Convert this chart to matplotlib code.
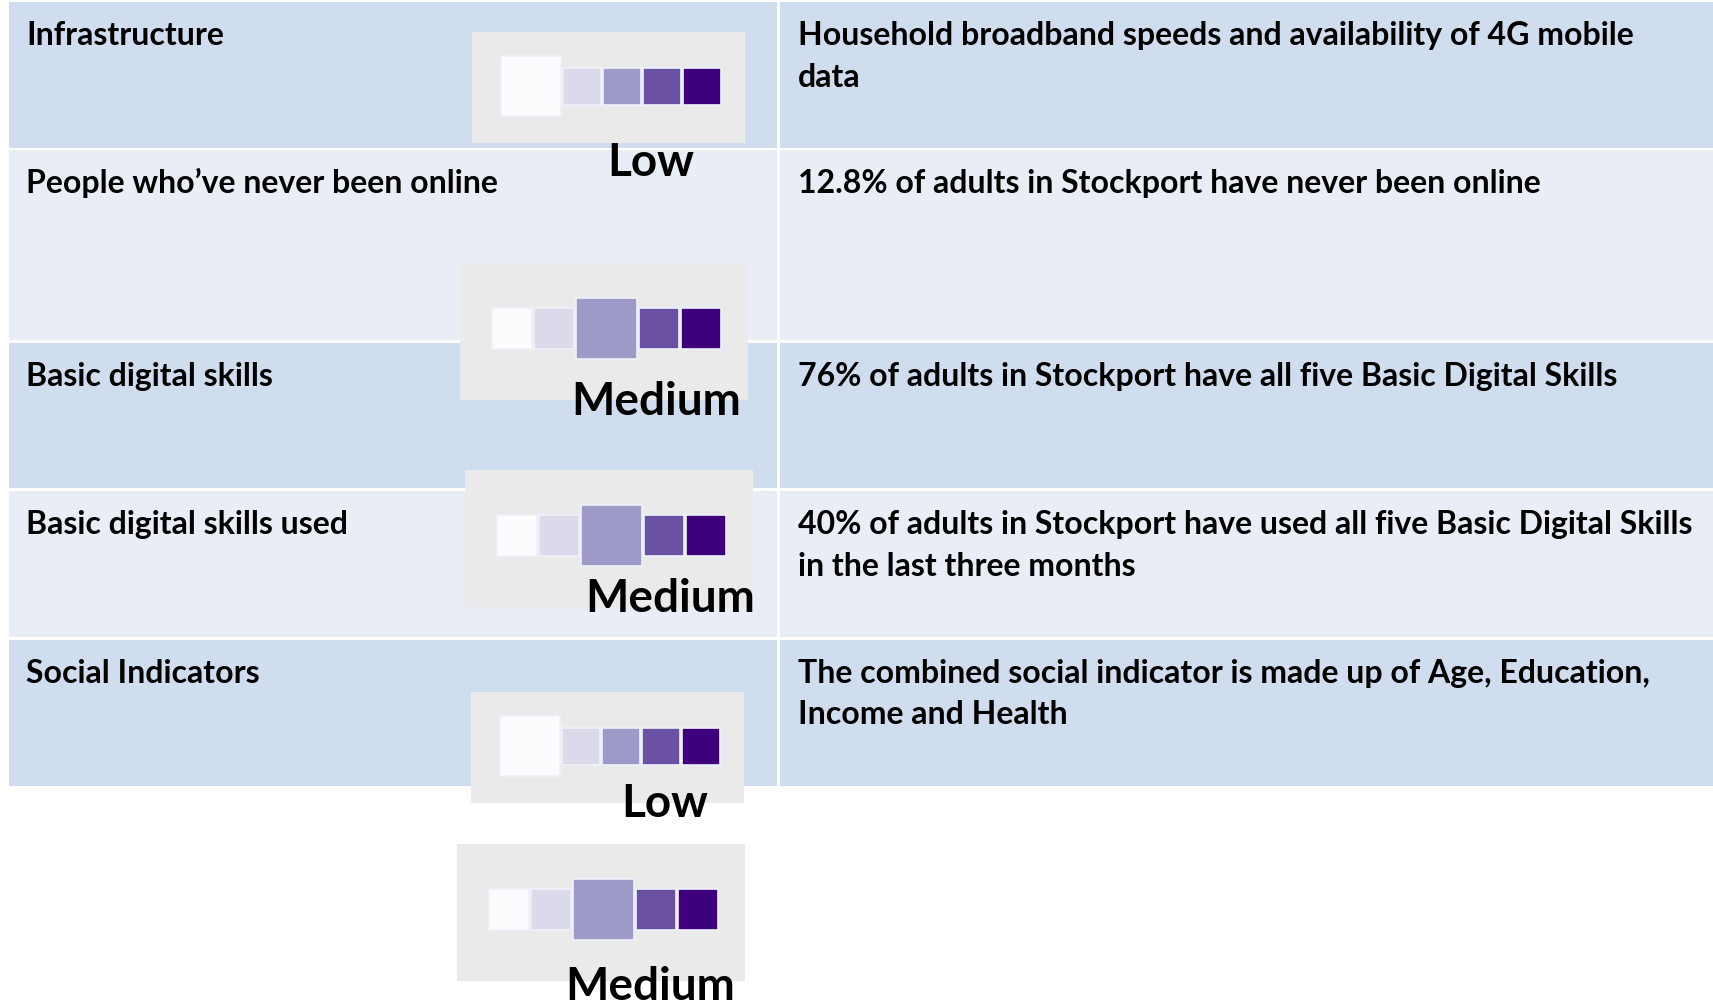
import matplotlib.pyplot as plt
from matplotlib.patches import Rectangle

# --- data ---
indicators = [
    "Infrastructure",
    "People who\u2019ve never been online",
    "Basic digital skills",
    "Basic digital skills used",
    "Social Indicators",
]
descriptions = [
    "Household broadband speeds and availability of 4G mobile\ndata",
    "12.8% of adults in Stockport have never been online",
    "76% of adults in Stockport have all five Basic Digital Skills",
    "40% of adults in Stockport have used all five Basic Digital Skills\nin the last three months",
    "The combined social indicator is made up of Age, Education,\nIncome and Health",
]
levels = ["Low", "Medium", "Medium", "Low", "Medium"]
level_index = {"Low": 0, "Medium": 2}
purples = ["#fcfbfd", "#dadaeb", "#9e9ac8", "#6a51a3", "#3f007d"]

# --- layout (pixels, figure is 1713x1003) ---
W, H = 1713, 1003
row_tops = [3, 151, 344, 492, 641]
row_bots = [149, 341, 489, 638, 787]
row_colors = ["#d0ddee", "#e9edf6"]
table_left, divider = 9, 778
line_gap = 41.5

# legend boxes: left, top, label x, label baseline
box_pos = [(472, 33, 651, 176), (460, 264, 656, 415), (465, 471, 670, 612),
           (471, 693, 665, 817), (457, 845, 650, 1000)]
box_style = {
    # width, height, pad-left, small w, small h, big, centre dy, gray
    "Low": (273, 111, 29, 38, 37, 60, 54, "#eaeaea"),
    "Medium": (288, 137, 32, 40, 41, 61, 65, "#eaeaea"),
}

FONT = ["Lato", "DejaVu Sans"]
TXT = 23

fig = plt.figure(figsize=(W / 100, H / 100), dpi=100)
ax = fig.add_axes([0, 0, 1, 1])
ax.set_xlim(0, W)
ax.set_ylim(H, 0)
ax.axis("off")

# table rows
for i, (top, bot) in enumerate(zip(row_tops, row_bots)):
    c = row_colors[i % 2]
    ax.add_patch(Rectangle((table_left, top), divider - 1 - table_left, bot - top,
                           facecolor=c, edgecolor="none", zorder=1))
    ax.add_patch(Rectangle((divider + 2, top), W - divider - 2, bot - top,
                           facecolor=c, edgecolor="none", zorder=1))
    ax.text(26, top + 42, indicators[i], fontsize=TXT, fontweight="bold",
            family=FONT, va="baseline", ha="left", zorder=2)
    for j, line in enumerate(descriptions[i].split("\n")):
        ax.text(798, top + 42 + j * line_gap, line, fontsize=TXT, fontweight="bold",
                family=FONT, va="baseline", ha="left", zorder=2)

# rating legends
for (bx, by, tx, ty), lev in zip(box_pos, levels):
    bw, bh, pad, sw, sh, big, cy, gray = box_style[lev]
    ax.add_patch(Rectangle((bx, by), bw, bh, facecolor=gray, edgecolor="none", zorder=3))
    x = bx + pad
    yc = by + cy
    sel = level_index[lev]
    for k, col in enumerate(purples):
        if k == sel:
            w_, h_ = big, big
        else:
            w_, h_ = sw, sh
        ax.add_patch(Rectangle((x, yc - h_ / 2), w_, h_, facecolor=col,
                               edgecolor="#eef2f9", linewidth=1.2, zorder=4))
        x += w_ + 2
    ax.text(tx, ty, lev, fontsize=33, fontweight="bold", family=FONT,
            ha="center", va="baseline", zorder=5)

fig.savefig("out.png", dpi=100)
